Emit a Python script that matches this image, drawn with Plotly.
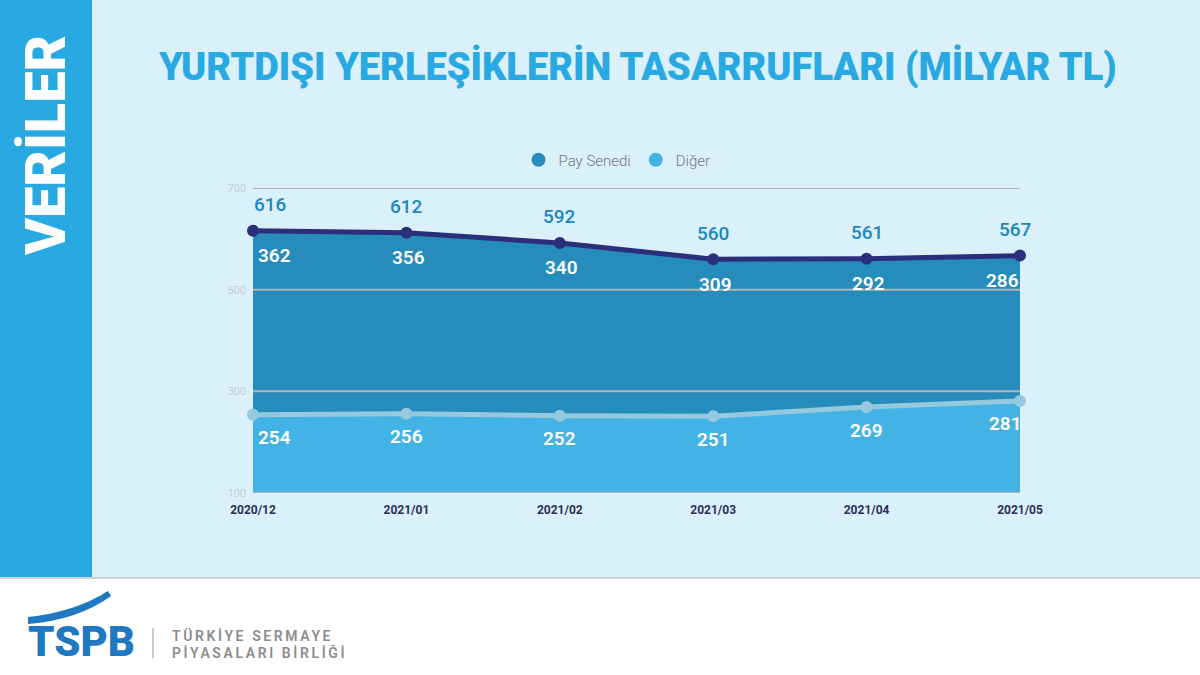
import plotly.graph_objects as go

# ---- data ----
months = ["2020/12", "2021/01", "2021/02", "2021/03", "2021/04", "2021/05"]
pay_senedi = [362, 356, 340, 309, 292, 286]
diger = [254, 256, 252, 251, 269, 281]
totals = [616, 612, 592, 560, 561, 567]
y_ticks = [100, 300, 500, 700]

# ---- geometry helpers (pixel -> paper) ----
W, H = 1200, 675
L, R, T, B = 253, 1020, 188, 493


def px(x):
    return (x - L) / (R - L)


def py(y):
    return (B - y) / (B - T)


FONT = "Roboto"
C_BAR = "#29a9e1"
C_BG = "#daf0fb"
C_PAY = "#268cbb"
C_DIG = "#43b3e5"
C_NAVY = "#2b2f7a"
C_LIGHTLINE = "#96c8de"
C_TOTAL = "#1e87c0"

fig = go.Figure()

fig.add_trace(go.Scatter(
    x=months, y=diger, name="Diğer", stackgroup="s", mode="lines+markers",
    line=dict(color=C_LIGHTLINE, width=5), marker=dict(size=12, color=C_LIGHTLINE),
    fillcolor=C_DIG, showlegend=False, cliponaxis=False, hoverinfo="skip"))
fig.add_trace(go.Scatter(
    x=months, y=pay_senedi, name="Pay Senedi", stackgroup="s", mode="lines+markers",
    line=dict(color=C_NAVY, width=5), marker=dict(size=12, color=C_NAVY),
    fillcolor=C_PAY, showlegend=False, cliponaxis=False, hoverinfo="skip"))

# legend entries (circle markers)
fig.add_trace(go.Scatter(x=[None], y=[None], mode="markers", name="Pay Senedi",
                         marker=dict(size=14, color=C_PAY)))
fig.add_trace(go.Scatter(x=[None], y=[None], mode="markers", name="Diğer",
                         marker=dict(size=14, color=C_DIG)))

shapes = [
    dict(type="rect", xref="paper", yref="paper", x0=px(92), x1=px(1200), y0=py(577), y1=py(0),
         fillcolor=C_BG, line=dict(width=0), layer="below"),
    dict(type="rect", xref="paper", yref="paper", x0=px(0), x1=px(92), y0=py(577), y1=py(0),
         fillcolor=C_BAR, line=dict(width=0), layer="below"),
    dict(type="line", xref="paper", yref="paper", x0=px(0), x1=px(1200), y0=py(578), y1=py(578),
         line=dict(color="#cfd3d6", width=2), layer="below"),
    dict(type="line", xref="paper", yref="paper", x0=px(153), x1=px(153), y0=py(628), y1=py(658),
         line=dict(color="#b8b8b8", width=1.5), layer="below"),
]
for t in y_ticks:
    shapes.append(dict(type="line", xref="paper", yref="y", x0=0, x1=1, y0=t, y1=t,
                       line=dict(color="#b4b4b4", width=2), layer="above"))

# logo swoosh
pts = [(28, 617), (75, 612), (108, 591), (111, 596), (78, 620), (28, 624)]
pp = [(px(a), py(b)) for a, b in pts]
path = (f"M {pp[0][0]},{pp[0][1]} Q {pp[1][0]},{pp[1][1]} {pp[2][0]},{pp[2][1]} "
        f"L {pp[3][0]},{pp[3][1]} Q {pp[4][0]},{pp[4][1]} {pp[5][0]},{pp[5][1]} Z")
shapes.append(dict(type="path", xref="paper", yref="paper", path=path,
                   fillcolor="#1f78c1", line=dict(width=0), layer="below"))

ann = []
n = len(months)
for i, m in enumerate(months):
    tot = diger[i] + pay_senedi[i]
    if i == 0:
        xs_t, xs_p, xs_d = 17, 21, 21
    elif i == n - 1:
        xs_t, xs_p, xs_d = -5, -18, -15
    else:
        xs_t, xs_p, xs_d = 0, 2, 0
    ann.append(dict(x=m, y=tot, xref="x", yref="y", text=str(totals[i]), showarrow=False,
                    xshift=xs_t, yshift=26,
                    font=dict(family=FONT, size=19, color=C_TOTAL, weight=500)))
    ann.append(dict(x=m, y=tot, xref="x", yref="y", text=str(pay_senedi[i]), showarrow=False,
                    xshift=xs_p, yshift=-25,
                    font=dict(family=FONT, size=19, color="white", weight=600)))
    ann.append(dict(x=m, y=diger[i], xref="x", yref="y", text=str(diger[i]), showarrow=False,
                    xshift=xs_d, yshift=-23,
                    font=dict(family=FONT, size=19, color="white", weight=600)))


def pa(x, y, text, font, **kw):
    d = dict(x=px(x), y=py(y), xref="paper", yref="paper", text=text, showarrow=False,
             xanchor="center", yanchor="middle", font=font)
    d.update(kw)
    return d


ann += [
    pa(46, 146, "VERİLER", dict(family=FONT, size=56, color="white", weight=900), textangle=-90),
    pa(637, 66, "YURTDIŞI YERLEŞİKLERİN TASARRUFLARI (MİLYAR TL)",
       dict(family=FONT, size=38, color=C_BAR, weight=900)),
    pa(81, 641, "TSPB", dict(family=FONT, size=42, color="#1f78c1", weight=900)),
    pa(170, 636, "<span style='letter-spacing:2.6px'>TÜRKİYE SERMAYE</span>",
       dict(family=FONT, size=14, color="#8c8c8c", weight=600), xanchor="left"),
    pa(170, 652, "<span style='letter-spacing:2.6px'>PİYASALARI BİRLİĞİ</span>",
       dict(family=FONT, size=14, color="#8c8c8c", weight=600), xanchor="left"),
]

fig.update_layout(
    width=W, height=H,
    margin=dict(l=L, r=W - R, t=T, b=H - B, pad=0),
    paper_bgcolor="white", plot_bgcolor="rgba(0,0,0,0)",
    shapes=shapes, annotations=ann, hovermode=False,
    legend=dict(orientation="h", traceorder="normal", x=px(617), xanchor="center",
                y=py(160), yanchor="middle",
                font=dict(family=FONT, size=15, color="#777777", weight=300),
                bgcolor="rgba(0,0,0,0)"),
    xaxis=dict(type="category", range=[0, n - 1], showgrid=False, zeroline=False,
               showline=False, ticks="", ticklabelstandoff=8,
               tickfont=dict(family=FONT, size=12, color="#2d2e5a", weight=700)),
    yaxis=dict(range=[100, 700], tickvals=y_ticks, showgrid=False, zeroline=False,
               showline=False, ticks="", ticklabelstandoff=6,
               tickfont=dict(family=FONT, size=11, color="#bdbdbd", weight=300)),
)

fig.write_html("out.html", config={"displayModeBar": False},
               post_script="document.body.style.margin='0';")
